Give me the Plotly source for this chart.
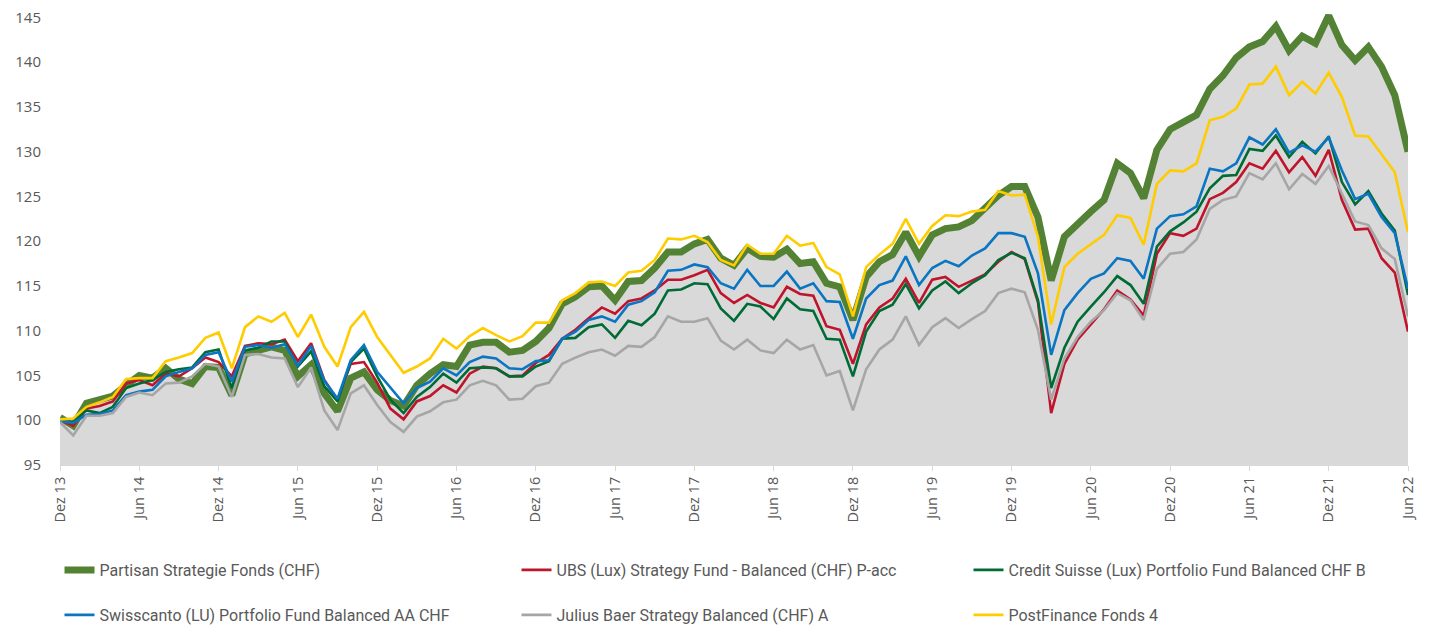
import plotly.graph_objects as go

tick_labels = ["Dez 13", "Jun 14", "Dez 14", "Jun 15", "Dez 15", "Jun 16", "Dez 16", "Jun 17", "Dez 17",
               "Jun 18", "Dez 18", "Jun 19", "Dez 19", "Jun 20", "Dez 20", "Jun 21", "Dez 21", "Jun 22"]
y_ticks = [95, 100, 105, 110, 115, 120, 125, 130, 135, 140, 145]

partisan = [100.3, 99.4, 101.9, 102.2, 102.7, 103.9, 105.0, 104.7, 105.8, 104.6,
            104.1, 106.0, 105.9, 102.8, 107.4, 107.8, 108.2, 107.8, 104.9, 106.2,
            103.0, 101.0, 104.7, 105.4, 103.4, 102.2, 101.6, 103.9, 105.2, 106.2,
            106.0, 108.4, 108.7, 108.7, 107.6, 107.8, 108.8, 110.3, 113.0, 113.8,
            114.9, 115.0, 113.4, 115.5, 115.6, 117.0, 118.8, 118.8, 119.7, 120.2,
            118.1, 117.3, 119.2, 118.3, 118.2, 119.1, 117.5, 117.7, 115.3, 114.9,
            111.2, 116.0, 117.7, 118.5, 121.0, 118.3, 120.7, 121.4, 121.6, 122.3,
            123.6, 125.1, 126.1, 126.1, 122.7, 115.6, 120.5, 122.0, 123.3, 124.6,
            128.7, 127.6, 124.8, 130.2, 132.5, 133.3, 134.1, 137.0, 138.5, 140.5,
            141.7, 142.3, 144.0, 141.3, 142.9, 142.1, 145.2, 141.9, 140.2, 141.7,
            139.5, 136.3, 130.0]

ubs = [100.0, 99.4, 101.3, 101.6, 102.1, 104.1, 104.5, 103.9, 105.2, 104.9,
       105.8, 107.0, 106.5, 104.9, 108.3, 108.6, 108.5, 109.0, 106.6, 108.6,
       104.5, 102.3, 106.3, 106.5, 104.2, 101.3, 100.1, 102.1, 102.7, 103.9,
       103.1, 105.2, 106.0, 105.8, 104.9, 105.0, 106.4, 107.3, 109.1, 110.1,
       111.4, 112.6, 111.9, 113.3, 113.6, 114.5, 115.7, 115.7, 116.2, 116.8,
       114.2, 113.1, 114.0, 113.1, 112.6, 114.9, 114.1, 113.9, 110.5, 110.1,
       106.3, 110.7, 112.6, 113.6, 115.8, 113.1, 115.7, 116.0, 114.9, 115.6,
       116.3, 117.7, 118.8, 118.0, 113.2, 100.8, 106.3, 109.0, 110.7, 112.4,
       114.5, 113.5, 111.7, 118.6, 120.9, 120.6, 121.4, 124.7, 125.4, 126.6,
       128.7, 128.1, 130.1, 127.7, 129.4, 127.3, 130.2, 124.6, 121.3, 121.4,
       118.1, 116.5, 109.9]

credit_suisse = [99.9, 99.8, 101.1, 100.8, 101.5, 103.6, 104.1, 104.5, 105.4, 105.7,
                 105.9, 107.6, 107.9, 103.6, 107.8, 108.1, 108.8, 108.8, 106.0, 107.7,
                 103.8, 102.1, 106.5, 108.0, 104.9, 102.3, 100.8, 102.6, 103.7, 105.2,
                 104.2, 105.8, 105.9, 105.8, 104.9, 104.9, 106.0, 106.6, 109.1, 109.2,
                 110.4, 110.7, 109.2, 111.1, 110.6, 111.9, 114.5, 114.6, 115.3, 115.2,
                 112.5, 111.1, 113.0, 112.7, 111.3, 113.6, 112.4, 112.2, 109.1, 109.0,
                 104.9, 109.9, 112.2, 112.9, 115.2, 112.5, 114.5, 115.5, 114.2, 115.3,
                 116.2, 117.9, 118.7, 118.1, 113.4, 103.6, 108.1, 111.0, 112.7, 114.3,
                 116.1, 115.1, 113.0, 119.4, 121.1, 122.1, 123.3, 125.9, 127.3, 127.4,
                 130.3, 130.1, 131.8, 129.4, 131.1, 129.8, 131.7, 126.6, 124.1, 125.6,
                 123.1, 121.2, 114.0]

swisscanto = [99.9, 99.7, 100.6, 100.7, 101.1, 102.8, 103.2, 103.4, 104.9, 105.4,
              105.8, 107.3, 107.6, 104.3, 108.2, 108.4, 108.1, 108.5, 106.1, 108.3,
              104.4, 102.4, 106.7, 108.4, 105.4, 103.6, 101.9, 103.6, 104.3, 105.8,
              105.0, 106.5, 107.1, 106.9, 105.8, 105.7, 106.6, 106.7, 109.1, 109.9,
              111.2, 111.6, 111.0, 112.9, 113.3, 114.3, 116.7, 116.8, 117.4, 117.1,
              115.3, 114.7, 116.8, 115.0, 115.0, 116.6, 114.7, 115.3, 113.3, 113.2,
              109.1, 113.6, 115.1, 115.6, 118.3, 115.1, 117.0, 117.8, 117.2, 118.4,
              119.2, 120.9, 120.9, 120.5, 116.4, 107.3, 112.3, 114.2, 115.8, 116.4,
              118.1, 117.8, 115.8, 121.4, 122.8, 123.0, 123.9, 128.1, 127.8, 128.7,
              131.6, 130.8, 132.5, 129.9, 130.7, 130.0, 131.6, 127.9, 124.7, 125.3,
              122.7, 120.9, 114.7]

julius_baer = [99.8, 98.3, 100.5, 100.5, 100.8, 102.6, 103.1, 102.8, 104.1, 104.2,
               104.9, 106.3, 106.0, 102.6, 107.3, 107.4, 107.0, 106.9, 103.7, 105.9,
               101.1, 98.9, 103.0, 103.9, 101.7, 99.8, 98.7, 100.4, 101.0, 102.0,
               102.3, 103.9, 104.4, 103.9, 102.3, 102.4, 103.8, 104.2, 106.3, 107.0,
               107.6, 107.9, 107.2, 108.3, 108.2, 109.3, 111.6, 111.0, 111.0, 111.4,
               108.9, 107.9, 109.0, 107.8, 107.5, 109.0, 107.9, 108.4, 105.0, 105.5,
               101.1, 105.7, 107.9, 109.0, 111.6, 108.4, 110.4, 111.4, 110.3, 111.3,
               112.2, 114.2, 114.7, 114.3, 110.1, 102.3, 106.9, 109.3, 111.0, 112.3,
               114.2, 113.4, 111.2, 116.9, 118.6, 118.8, 120.2, 123.6, 124.6, 125.0,
               127.6, 126.9, 128.7, 125.8, 127.5, 126.4, 128.4, 125.3, 122.2, 121.8,
               119.2, 118.0, 111.6]

postfinance = [100.1, 100.2, 101.5, 102.0, 102.6, 104.6, 104.7, 104.7, 106.6, 107.0,
               107.5, 109.2, 109.8, 105.8, 110.4, 111.6, 111.0, 112.0, 109.3, 111.8,
               108.2, 106.0, 110.4, 112.1, 109.3, 107.3, 105.3, 106.0, 106.9, 109.1,
               108.0, 109.4, 110.3, 109.5, 108.8, 109.4, 110.9, 110.9, 113.4, 114.2,
               115.4, 115.5, 115.0, 116.5, 116.7, 117.9, 120.3, 120.2, 120.6, 119.9,
               117.9, 117.3, 119.6, 118.6, 118.6, 120.6, 119.5, 119.8, 117.1, 116.3,
               111.6, 117.1, 118.5, 119.7, 122.5, 119.7, 121.7, 122.9, 122.8, 123.3,
               123.5, 125.6, 125.1, 125.2, 120.5, 110.7, 117.1, 118.6, 119.7, 120.7,
               122.9, 122.6, 119.6, 126.4, 127.9, 127.8, 128.7, 133.5, 133.9, 134.8,
               137.5, 137.6, 139.5, 136.3, 137.8, 136.5, 138.8, 136.1, 131.8, 131.7,
               129.7, 127.7, 121.0]

x = list(range(len(partisan)))
tickvals = list(range(0, len(partisan), 6))

W, H = 1424, 617
FONT = "Roboto, Lato, sans-serif"
TXT = "#595959"

fig = go.Figure()
fig.add_trace(go.Scatter(x=x, y=partisan, mode="lines", fill="tozeroy", fillcolor="#D9D9D9",
                         line=dict(width=0, color="#D9D9D9"), showlegend=False, hoverinfo="skip"))

series = [
    ("Partisan Strategie Fonds (CHF)", partisan, "#548235", 7),
    ("UBS (Lux) Strategy Fund - Balanced (CHF) P-acc", ubs, "#C0142C", 2.6),
    ("Credit Suisse (Lux) Portfolio Fund Balanced CHF B", credit_suisse, "#006B35", 2.6),
    ("Swisscanto (LU) Portfolio Fund Balanced AA CHF", swisscanto, "#0A75C2", 2.6),
    ("Julius Baer Strategy Balanced (CHF) A", julius_baer, "#A6A6A6", 2.6),
    ("PostFinance Fonds 4", postfinance, "#FFCC00", 2.6),
]
legend_x = [51.5, 508.5, 960.5]
legend_y = [562, 607]

layout_legends = {}
for k, (name, ys, color, w) in enumerate(series):
    lg = "legend" if k == 0 else f"legend{k + 1}"
    fig.add_trace(go.Scatter(x=x, y=ys, mode="lines", name=name,
                             line=dict(color=color, width=w), legend=lg))
    layout_legends[lg] = dict(
        orientation="h", xref="container", yref="container", xanchor="left", yanchor="middle",
        x=legend_x[k % 3] / W, y=1 - legend_y[k // 3] / H,
        font=dict(family=FONT, size=16, color=TXT), bgcolor="rgba(0,0,0,0)", itemwidth=30)

fig.update_layout(
    width=W, height=H,
    margin=dict(l=52, r=24, t=3.6, b=160, autoexpand=False),
    plot_bgcolor="white", paper_bgcolor="white",
    showlegend=True,
    xaxis=dict(range=[0, len(partisan) - 1], tickmode="array", tickvals=tickvals, ticktext=tick_labels,
               tickangle=-90, showgrid=False, zeroline=False, showline=True, linecolor="#D9D9D9",
               linewidth=1, ticks="outside", ticklen=5, tickcolor="#D9D9D9", automargin=False,
               tickfont=dict(family="Open Sans, sans-serif", size=14.5, color=TXT)),
    yaxis=dict(range=[95, 145.6], tickmode="array", tickvals=y_ticks,
               showgrid=False, zeroline=False, showline=False, ticks="", automargin=False,
               ticklabelstandoff=18, ticklabeloverflow="allow",
               tickfont=dict(family="Open Sans, sans-serif", size=15, color=TXT)),
    **layout_legends,
)

fig.write_html("out.html")
